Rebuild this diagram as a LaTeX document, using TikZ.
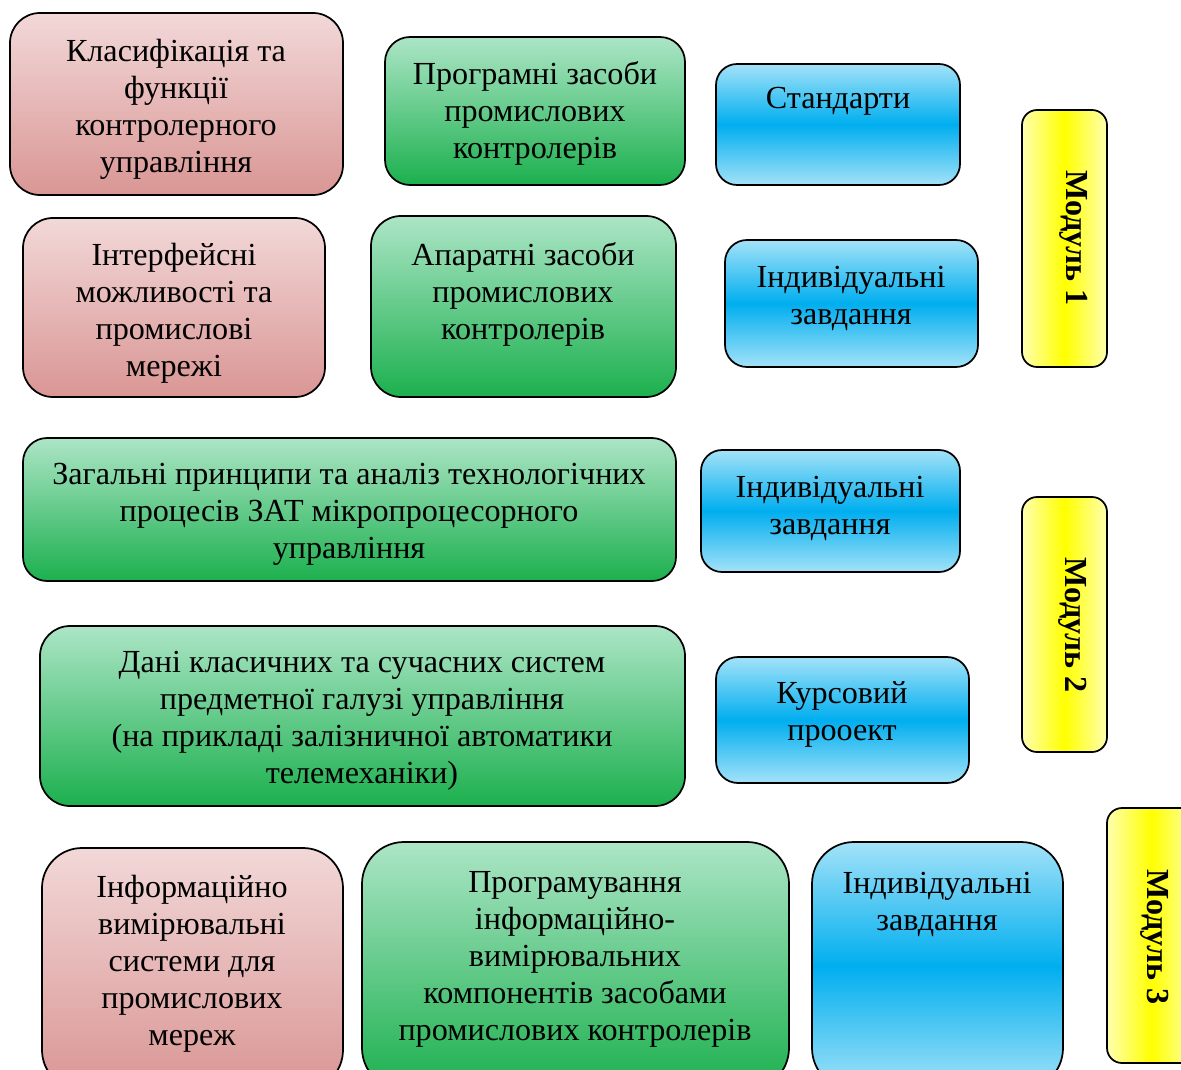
\documentclass[tikz,border=0pt]{standalone}
\usepackage{fontspec}
\setmainfont{Liberation Serif}
\definecolor{pinkTop}{HTML}{F2D8D8}
\definecolor{pinkBot}{HTML}{D99694}
\definecolor{greenTop}{HTML}{ACE5C6}
\definecolor{greenBot}{HTML}{1CB04E}
\definecolor{blueEdge}{HTML}{A3E2F8}
\definecolor{blueMid}{HTML}{00AEEF}
\definecolor{yelEdge}{HTML}{FFFFB0}
\definecolor{yelMid}{HTML}{FFFF00}
\tikzset{
  boxbase/.style={draw=black, line width=1.3pt, inner sep=0pt},
  pinkbox/.style={boxbase, top color=pinkTop, bottom color=pinkBot},
  greenbox/.style={boxbase, top color=greenTop, bottom color=greenBot},
  bluebox/.style={boxbase, top color=blueEdge, bottom color=blueEdge, middle color=blueMid},
  yellowbox/.style={boxbase, left color=yelEdge, right color=yelEdge, middle color=yelMid},
  txt/.style={align=center, inner sep=0pt, yshift=-2.25pt, font=\fontsize{24.1}{27.75}\selectfont},
  modtxt/.style={inner sep=0pt, rotate=-90, font=\fontsize{24.1}{27.75}\selectfont\bfseries}
}
\newcommand\bx[7]{%
  \pgfmathsetmacro\bxw{(#5-#3)*0.75}%
  \pgfmathsetmacro\bxh{(#6-#4)*0.75}%
  \pgfmathsetmacro\bxr{#7*0.75}%
  \pgfmathsetmacro\bxcx{(#3+#5)/2}%
  \pgfmathsetmacro\bxcy{(#4+#6)/2}%
  \node[#1, rounded corners=\bxr pt, minimum width=\bxw pt, minimum height=\bxh pt] (#2) at (\bxcx,\bxcy) {};
}
\begin{document}
\begin{tikzpicture}[x=0.75pt, y=-0.75pt]
\useasboundingbox (0,0) rectangle (1181,1070);
\clip (0,0) rectangle (1181,1070);
\fill[white] (0,0) rectangle (1181,1070);
% Module 1
\bx{pinkbox}{b1}{10}{13}{343}{195}{30}
\node[txt] (t1) at (176,106) {Класифікація та\\функції\\контролерного\\управління};
\bx{greenbox}{b2}{385}{37}{685}{185}{25}
\node[txt] (t2) at (535,110) {Програмні засоби\\промислових\\контролерів};
\bx{bluebox}{b3}{716}{64}{960}{185}{21}
\node[txt] (t3) at (838,98) {Стандарти};
\bx{pinkbox}{b4}{23}{218}{325}{397}{30}
\node[txt] (t4) at (174,310) {Інтерфейсні\\можливості та\\промислові\\мережі};
\bx{greenbox}{b5}{371}{216}{676}{397}{30}
\node[txt] (t5) at (523,291) {Апаратні засоби\\промислових\\контролерів};
\bx{bluebox}{b6}{725}{240}{978}{367}{22}
\node[txt] (t6) at (851,295) {Індивідуальні\\завдання};
\bx{yellowbox}{m1}{1022}{110}{1107}{367}{15}
\node[modtxt] (tm1) at (1074,238) {Модуль 1};
% Module 2
\bx{greenbox}{b8}{23}{438}{676}{581}{24}
\node[txt] (t8) at (349,511) {Загальні принципи та аналіз технологічних\\процесів ЗАТ мікропроцесорного\\управління};
\bx{bluebox}{b9}{701}{450}{960}{572}{21}
\node[txt] (t9) at (830,505) {Індивідуальні\\завдання};
\bx{yellowbox}{m2}{1022}{497}{1107}{752}{15}
\node[modtxt] (tm2) at (1073,625) {Модуль 2};
\bx{greenbox}{b11}{40}{626}{685}{806}{30}
\node[txt] (t11) at (362,718) {Дані класичних та сучасних систем\\предметної галузі управління\\(на прикладі залізничної автоматики\\телемеханіки)};
\bx{bluebox}{b12}{716}{657}{969}{783}{22}
\node[txt] (t12) at (842,711) {Курсовий\\прооект};
% Module 3
\bx{pinkbox}{b13}{42}{848}{343}{1090}{40}
\node[txt] (t13) at (192,961) {Інформаційно\\вимірювальні\\системи для\\промислових\\мереж};
\bx{greenbox}{b14}{362}{842}{789}{1090}{42}
\node[txt] (t14) at (575,956) {Програмування\\інформаційно-\\вимірювальних\\компонентів засобами\\промислових контролерів};
\bx{bluebox}{b15}{812}{842}{1063}{1090}{42}
\node[txt] (t15) at (937,901) {Індивідуальні\\завдання};
\bx{yellowbox}{m3}{1107}{808}{1196}{1063}{15}
\node[modtxt] (tm3) at (1155,937) {Модуль 3};
\end{tikzpicture}
\end{document}
